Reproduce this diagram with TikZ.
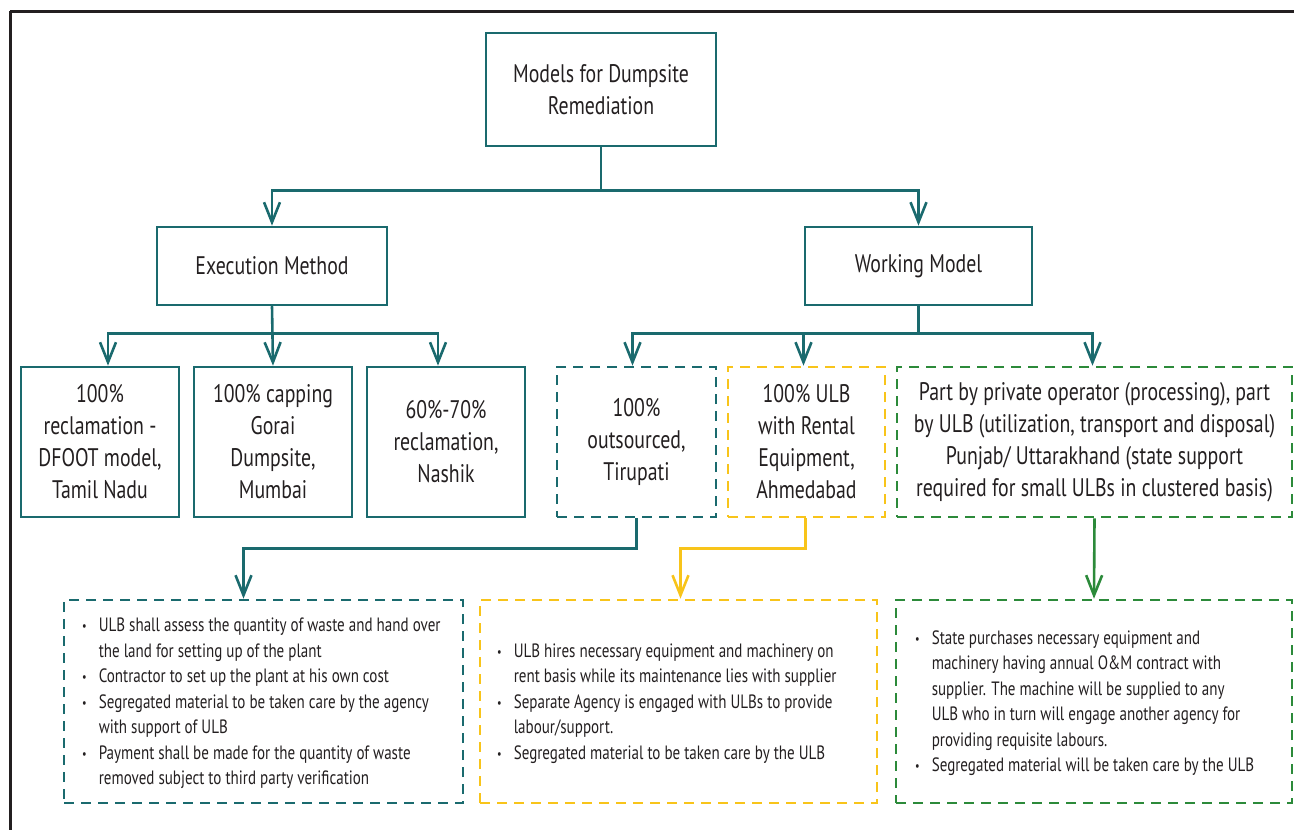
\documentclass[tikz,border=0pt]{standalone}
\usepackage{fontspec}
\setmainfont{PT Sans}[FakeStretch=0.78]
\usetikzlibrary{arrows.meta,calc}

\definecolor{dteal}{RGB}{26,106,110}
\definecolor{dyellow}{RGB}{248,196,26}
\definecolor{dgreen}{RGB}{44,138,58}
\definecolor{ink}{RGB}{35,31,32}

\tikzset{
  solidbox/.style={draw=dteal, line width=2.6pt, text=ink, align=center, inner sep=0pt,
    font=\fontsize{25.4}{32}\selectfont},
  dashbox/.style={line width=2.6pt, dash pattern=on 10pt off 7pt, text=ink, align=center,
    inner sep=0pt, font=\fontsize{25.4}{32}\selectfont},
  listtext/.style={anchor=west, inner sep=0pt, text=ink, align=left,
    font=\fontsize{19.3}{25.5}\selectfont},
  link/.style={line width=2.6pt, draw=#1, -{Straight Barb[length=20pt,width=16pt]}},
}

\newcommand{\bl}{\raisebox{0.1ex}{\fontsize{13}{13}\selectfont\textbullet}}

\begin{document}
\begin{tikzpicture}[x=1pt,y=-1pt]
\useasboundingbox (0,0) rectangle (1294,830);

% outer frame (top and left edges)
\draw[line width=3pt, ink] (10,11) -- (1294,11);
\draw[line width=3pt, ink] (10,11) -- (10,830);

% root
\node[solidbox, minimum width=230pt, minimum height=113pt] (root) at (601,89.5)
  {Models for Dumpsite\\Remediation};

% second level
\node[solidbox, minimum width=230pt, minimum height=78pt] (exec) at (272,266) {Execution Method};
\node[solidbox, minimum width=227pt, minimum height=78pt] (work) at (918.5,266) {Working Model};

% execution methods
\node[solidbox, minimum width=158pt, minimum height=150pt] (r1) at (100,442)
  {100\%\\reclamation -\\DFOOT model,\\Tamil Nadu};
\node[solidbox, minimum width=158pt, minimum height=150pt] (r2) at (273,442)
  {100\% capping\\Gorai\\Dumpsite,\\Mumbai};
\node[solidbox, minimum width=158pt, minimum height=150pt] (r3) at (446,442)
  {60\%-70\%\\reclamation,\\Nashik};

% working models
\node[dashbox, draw=dteal, minimum width=159pt, minimum height=150pt] (w1) at (636.5,442)
  {100\%\\outsourced,\\Tirupati};
\node[dashbox, draw=dyellow, minimum width=157pt, minimum height=150pt] (w2) at (806.5,442)
  {100\% ULB\\with Rental\\Equipment,\\Ahmedabad};
\node[dashbox, draw=dgreen, minimum width=395pt, minimum height=150pt] (w3) at (1094.5,442)
  {Part by private operator (processing), part\\by ULB (utilization, transport and disposal)\\Punjab/ Uttarakhand (state support\\required for small ULBs in clustered basis)};

% detail boxes
\node[dashbox, draw=dteal, minimum width=399pt, minimum height=203pt] (d1) at (263.5,701.5) {};
\node[dashbox, draw=dyellow, minimum width=397pt, minimum height=203pt] (d2) at (678.5,701.5) {};
\node[dashbox, draw=dgreen, minimum width=396pt, minimum height=203pt] (d3) at (1094,701.5) {};

\node[listtext] (d1t) at (82,703) {%
  \begin{tabular}{@{}l@{\hspace{12pt}}l@{}}
  \bl & ULB shall assess the quantity of waste and hand over\\
      & the land for setting up of the plant\\
  \bl & Contractor to set up the plant at his own cost\\
  \bl & Segregated material to be taken care by the agency\\
      & with support of ULB\\
  \bl & Payment shall be made for the quantity of waste\\
      & removed subject to third party verification
  \end{tabular}};

\node[listtext] (d2t) at (497,703) {%
  \begin{tabular}{@{}l@{\hspace{12pt}}l@{}}
  \bl & ULB hires necessary equipment and machinery on\\
      & rent basis while its maintenance lies with supplier\\
  \bl & Separate Agency is engaged with ULBs to provide\\
      & labour/support.\\
  \bl & Segregated material to be taken care by the ULB
  \end{tabular}};

\node[listtext] (d3t) at (915,703) {%
  \begin{tabular}{@{}l@{\hspace{12pt}}l@{}}
  \bl & State purchases necessary equipment and\\
      & machinery having annual O\&M contract with\\
      & supplier. The machine will be supplied to any\\
      & ULB who in turn will engage another agency for\\
      & providing requisite labours.\\
  \bl & Segregated material will be taken care by the ULB
  \end{tabular}};

% connectors
\draw[link=dteal] (root.south) -- ++(0,43) -| (exec.north);
\draw[link=dteal] (root.south) -- ++(0,43) -| (work.north);

\draw[link=dteal] (exec.south) -- ++(0,27) -| ([xshift=8pt]r1.north);
\draw[link=dteal] (exec.south) -- (r2.north);
\draw[link=dteal] (exec.south) -- ++(0,27) -| ([xshift=-8pt]r3.north);

\draw[link=dteal] (work.south) -- ++(0,27) -| ([xshift=-4pt]w1.north);
\draw[link=dteal] (work.south) -- ++(0,27) -| ([xshift=-3pt]w2.north);
\draw[link=dteal] (work.south) -- ++(0,27) -| ([xshift=-2pt]w3.north);

\draw[link=dteal] (w1.south) -- ++(0,30) -| ([xshift=-20pt]d1.north);
\draw[link=dyellow] ([xshift=-1pt]w2.south) -- ++(0,30) -| ([xshift=2pt]d2.north);
\draw[link=dgreen] (w3.south) -- (d3.north);

\end{tikzpicture}
\end{document}
